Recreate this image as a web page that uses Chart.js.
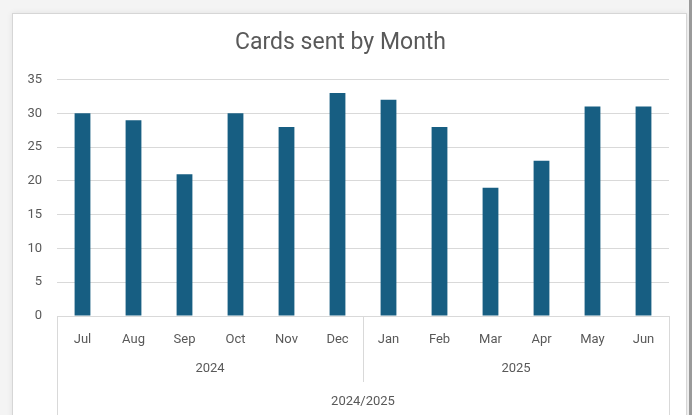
<!DOCTYPE html>
<html>
<head>
<meta charset="utf-8">
<script src="https://cdn.jsdelivr.net/npm/chart.js@4"></script>
<style>
  html, body { margin: 0; padding: 0; width: 692px; height: 415px; overflow: hidden; background: #f4f4f4; }
  #box { position: absolute; left: 12px; top: 13px; width: 673px; height: 420px; background: #fff;
         border: 1px solid #d6d6d6; box-shadow: 0 0 6px rgba(0,0,0,0.08); }
  #edge { position: absolute; right: 0; top: 0; width: 3px; height: 415px; background: #9a9a9a; }
  #wrap { position: absolute; left: 0; top: 0; width: 692px; height: 415px; }
</style>
</head>
<body>
<div id="box"></div>
<div id="edge"></div>
<div id="wrap"><canvas id="chart" width="692" height="415"></canvas></div>
<script>
const months = ["Jul", "Aug", "Sep", "Oct", "Nov", "Dec", "Jan", "Feb", "Mar", "Apr", "May", "Jun"];
const cards = [30, 29, 21, 30, 28, 33, 32, 28, 19, 23, 31, 31];
const years = ["2024", "2025"];
const yearSpan = [6, 6];
const season = "2024/2025";
const yTicks = [0, 5, 10, 15, 20, 25, 30, 35];

const fontFamily = "Roboto, 'Liberation Sans', sans-serif";
const textColor = "#595959";
const lineColor = "#d9d9d9";

// draws the year row, the season row and the separators under the month labels
const groupAxis = {
  id: "groupAxis",
  afterDraw(chart) {
    const ctx = chart.ctx;
    const x = chart.scales.x;
    const area = chart.chartArea;
    const bottom = chart.height;
    ctx.save();
    ctx.strokeStyle = lineColor;
    ctx.lineWidth = 1;
    ctx.fillStyle = textColor;
    ctx.textAlign = "center";
    ctx.textBaseline = "middle";
    ctx.font = "13px " + fontFamily;

    let start = 0;
    const edges = [area.left];
    years.forEach(function(y, i) {
      const end = start + yearSpan[i] - 1;
      const cx = (x.getPixelForValue(start) + x.getPixelForValue(end)) / 2;
      ctx.fillText(y, cx, area.bottom + 53);
      if (i < years.length - 1) {
        edges.push((x.getPixelForValue(end) + x.getPixelForValue(end + 1)) / 2);
      }
      start = end + 1;
    });
    edges.push(area.right);

    edges.forEach(function(px, i) {
      const full = i === 0 || i === edges.length - 1;
      const xx = Math.round(px) + 0.5;
      ctx.beginPath();
      ctx.moveTo(xx, area.bottom);
      ctx.lineTo(xx, full ? bottom : area.bottom + 66);
      ctx.stroke();
    });

    ctx.fillText(season, (area.left + area.right) / 2, area.bottom + 86);
    ctx.restore();
  }
};

const ctx = document.getElementById("chart").getContext("2d");
new Chart(ctx, {
  type: "bar",
  data: {
    labels: months,
    datasets: [{
      label: "Cards sent",
      data: cards,
      backgroundColor: "#175e82",
      borderWidth: 0,
      categoryPercentage: 1,
      barPercentage: 0.31
    }]
  },
  options: {
    responsive: false,
    animation: false,
    devicePixelRatio: 1,
    layout: { padding: { left: 12, right: 23, top: 29, bottom: 0 } },
    plugins: {
      legend: { display: false },
      tooltip: { enabled: false },
      title: {
        display: true,
        text: "Cards sent by Month",
        color: textColor,
        font: { family: fontFamily, size: 23, weight: "normal" },
        padding: { top: 0, bottom: 23 }
      }
    },
    scales: {
      x: {
        grid: { display: false },
        border: { color: lineColor, width: 1 },
        ticks: { color: textColor, font: { family: fontFamily, size: 13 }, padding: 8, maxRotation: 0, autoSkip: false },
        afterFit: function(s) { s.height = 99; }
      },
      y: {
        min: 0,
        max: 35,
        afterBuildTicks: function(s) { s.ticks = yTicks.map(function(v) { return { value: v }; }); },
        grid: { color: lineColor, drawTicks: false },
        border: { display: false },
        ticks: { color: textColor, font: { family: fontFamily, size: 13 }, padding: 15 },
        afterFit: function(s) { s.width = 45; }
      }
    }
  },
  plugins: [groupAxis]
});
</script>
</body>
</html>
